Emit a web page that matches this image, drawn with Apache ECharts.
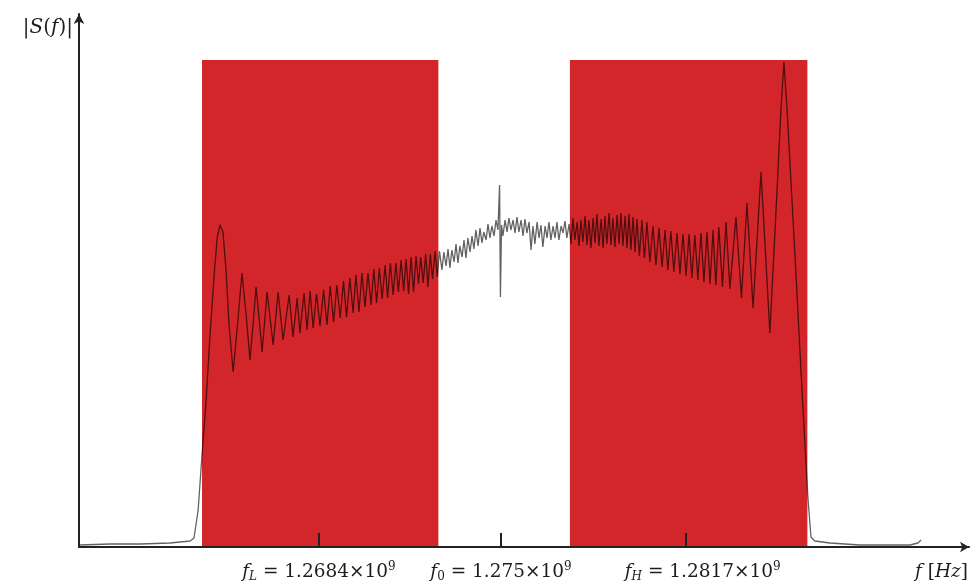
<!DOCTYPE html>
<html>
<head>
<meta charset="utf-8">
<script src="https://cdn.jsdelivr.net/npm/echarts@6/dist/echarts.min.js"></script>
<style>html,body{margin:0;padding:0;background:#fff;}#chart{width:976px;height:582px;}</style>
</head>
<body>
<div id="chart"></div>
<script>
// Frequency in MHz
const freqMHz = [
1259.74,1260.83,1261.91,1263.00,1263.73,1263.87,1264.02,1264.16,1264.31,1264.45,1264.60,1264.71,1264.81,1264.92,1265.03,1265.14,
1265.29,1265.43,1265.61,1265.76,1265.90,1266.01,1266.12,1266.23,1266.34,1266.52,1266.74,1266.92,1267.10,1267.32,1267.46,1267.61,
1267.71,1267.86,1267.97,1268.08,
1268.19,1268.31,1268.44,1268.57,1268.69,1268.81,1268.93,1269.05,1269.17,1269.29,1269.40,1269.52,1269.64,1269.74,1269.85,1269.96,
1270.07,1270.18,1270.29,1270.39,1270.49,1270.59,1270.69,1270.80,1270.89,1270.99,1271.09,1271.19,1271.28,1271.38,1271.47,1271.56,
1271.65,1271.74,1271.83,1271.92,1272.01,1272.09,1272.18,1272.27,1272.35,1272.44,1272.52,1272.61,1272.69,1272.77,
1272.86,1272.93,1273.01,1273.08,1273.15,1273.22,1273.30,1273.37,1273.44,1273.51,1273.59,1273.66,1273.73,1273.80,1273.88,1273.95,
1274.02,1274.09,1274.17,1274.24,1274.31,1274.38,1274.46,1274.53,1274.60,1274.67,1274.75,1274.82,1274.89,1274.95,1274.98,1275.02,
1275.07,1275.15,1275.22,1275.29,1275.36,1275.44,1275.51,1275.58,1275.65,1275.73,1275.80,1275.87,1275.94,1276.02,1276.09,1276.16,
1276.23,1276.31,1276.38,1276.45,1276.52,1276.60,1276.67,1276.74,1276.81,1276.89,1276.96,1277.03,1277.10,1277.18,1277.25,1277.32,
1277.39,1277.47,
1277.54,1277.61,1277.68,1277.76,1277.83,1277.90,1277.97,1278.05,1278.12,1278.19,1278.26,1278.34,1278.41,1278.48,1278.55,1278.63,
1278.70,1278.77,1278.84,1278.92,1278.99,1279.06,1279.13,1279.21,1279.28,1279.35,1279.42,1279.50,1279.57,1279.64,1279.71,1279.79,
1279.86,1279.93,1280.02,1280.11,1280.20,1280.29,1280.40,1280.51,1280.62,1280.73,1280.84,1280.95,1281.05,1281.16,1281.27,1281.38,
1281.49,1281.60,1281.71,1281.82,1281.92,1282.03,1282.14,1282.25,1282.36,1282.47,1282.58,1282.69,1282.79,1282.90,1283.03,1283.16,
1283.30,1283.52,1283.72,1283.92,1284.14,1284.43,1284.75,1285.01,1285.15,1285.26,1285.37,1285.66,1285.91,1286.13,1286.24,1286.38,
1286.93,1288.01,1289.10,1289.83,1290.12,1290.23
];
// |S(f)| in arbitrary units
const magnitude = [
0.4,0.6,0.6,0.8,1.2,1.8,7.4,18.4,29.4,42.4,54.4,61.8,64.4,63.0,55.4,44.4,
35.0,43.4,54.8,46.4,37.4,44.4,52.0,45.8,39.0,51.0,40.4,51.0,41.4,50.4,42.0,49.8,
42.8,50.8,43.4,51.2,
43.8,50.6,44.2,51.4,44.4,52.2,45.0,52.4,45.8,53.2,46.0,53.8,46.8,54.4,47.0,54.8,
48.0,54.8,48.4,55.6,48.8,55.8,49.6,56.4,49.8,56.8,50.4,56.8,51.0,57.4,51.2,57.6,
50.6,58.0,51.0,58.2,52.6,58.0,52.8,58.6,52.0,58.6,53.6,59.2,54.0,59.2,
55.4,59.0,56.2,59.6,55.8,59.4,57.0,60.6,56.8,60.2,58.0,61.4,57.8,61.8,59.0,62.2,
59.6,63.4,60.2,63.8,60.8,63.0,61.4,64.6,61.8,64.2,62.2,65.4,63.4,72.4,50.0,64.4,
62.2,65.4,63.0,65.8,63.4,65.4,62.8,66.0,63.0,65.4,62.2,65.6,62.8,65.0,59.4,64.2,
60.6,65.0,61.8,64.4,60.0,64.2,61.8,65.0,61.4,64.2,61.8,65.0,61.4,64.2,62.8,65.2,
61.8,64.6,
60.6,65.8,61.4,65.0,60.2,65.4,61.0,66.2,60.4,65.4,59.8,65.8,60.8,66.6,60.2,65.6,
59.8,66.2,60.6,66.8,60.4,65.8,60.0,66.4,60.6,66.8,60.2,66.2,59.8,66.6,59.4,66.0,
59.0,65.6,58.2,65.4,57.8,65.0,57.0,64.2,56.4,63.8,56.0,63.4,55.4,63.2,55.0,62.8,
54.6,62.6,54.2,62.6,53.8,62.4,53.4,62.8,53.0,63.0,52.6,63.4,52.4,64.0,52.0,65.0,
51.6,66.0,49.8,68.8,47.8,75.0,42.8,71.4,87.4,97.0,87.8,58.4,31.8,9.8,2.0,1.2,
0.8,0.4,0.4,0.4,0.8,1.4
];
// Shaded bands (MHz)
const bandStart = [1264.16, 1277.50];
const bandEnd = [1272.73, 1286.11];
const bandTop = 97.4;
// Axis ticks
const tickValues = [1268.4, 1275.0, 1281.7];
const tickSubs = ['L', '0', 'H'];
const tickMantissa = ['1.2684', '1.275', '1.2817'];

const data = freqMHz.map((f, i) => [f, magnitude[i]]);
const areas = bandStart.map((s, i) => [{xAxis: s, yAxis: 0}, {xAxis: bandEnd[i], yAxis: bandTop}]);

const serif = 'DejaVu Serif';
const txt = '#1e1e1e';
const rich = {
  it: {fontFamily: serif, fontStyle: 'italic', fontSize: 18.5, color: txt, lineHeight: 22},
  n: {fontFamily: serif, fontSize: 18.5, color: txt, lineHeight: 22},
  subi: {fontFamily: serif, fontStyle: 'italic', fontSize: 12, color: txt, lineHeight: 12, verticalAlign: 'bottom'},
  sub: {fontFamily: serif, fontSize: 12, color: txt, lineHeight: 12, verticalAlign: 'bottom'},
  sup: {fontFamily: serif, fontSize: 12, color: txt, lineHeight: 12, verticalAlign: 'top'},
  sp: {width: 34}
};
const richY = {
  it: {fontFamily: serif, fontStyle: 'italic', fontSize: 20, color: txt},
  n: {fontFamily: serif, fontSize: 20, color: txt}
};

const chart = echarts.init(document.getElementById('chart'), null, {renderer: 'canvas'});
chart.setOption({
  animation: false,
  backgroundColor: '#fff',
  grid: {left: 79, right: 7, top: 14, bottom: 35, containLabel: false, outerBoundsMode: 'none'},
  xAxis: {
    type: 'value', min: 1259.70, max: 1291.97, z: 10,
    splitLine: {show: false},
    axisLine: {lineStyle: {color: '#222', width: 2}, symbol: ['none', 'arrow'], symbolSize: [8, 9]},
    axisTick: {show: true, inside: true, length: 14, lineStyle: {color: '#222', width: 2}, customValues: tickValues},
    axisLabel: {
      show: true, margin: 14, customValues: tickValues, rich: rich, hideOverlap: false,
      formatter: function (v) {
        let i = tickValues.findIndex(t => Math.abs(t - v) < 0.01);
        if (i < 0) return '';
        const subStyle = tickSubs[i] === '0' ? 'sub' : 'subi';
        const pre = i === 2 ? '{sp|}' : '';
        return pre + '{it|f}{' + subStyle + '|' + tickSubs[i] + '}{n| = ' + tickMantissa[i] + '×10}{sup|9}';
      }
    },
    name: '{it|f}{n| [}{it|Hz}{n|]}',
    nameLocation: 'end', nameGap: -1,
    nameTextStyle: {rich: rich, align: 'right', verticalAlign: 'top', padding: [14, 0, 0, 0]}
  },
  yAxis: {
    type: 'value', min: 0, max: 106.6, z: 10,
    splitLine: {show: false},
    axisLine: {show: true, lineStyle: {color: '#222', width: 2}, symbol: ['none', 'arrow'], symbolSize: [8, 10]},
    axisTick: {show: false},
    axisLabel: {show: false},
    name: '{n||}{it|S}{n|(}{it|f}{n|)|}',
    nameLocation: 'end', nameGap: -14,
    nameTextStyle: {rich: richY, align: 'right', verticalAlign: 'middle', padding: [0, 6, 0, 0]}
  },
  series: [
    {
      type: 'line', data: [], z: 1, silent: true,
      markArea: {silent: true, itemStyle: {color: '#d3262a', opacity: 1}, data: areas}
    },
    {
      type: 'line', data: data, z: 3, showSymbol: false, silent: true,
      lineStyle: {color: '#000', width: 1.3, opacity: 0.62}
    }
  ]
});
</script>
</body>
</html>
